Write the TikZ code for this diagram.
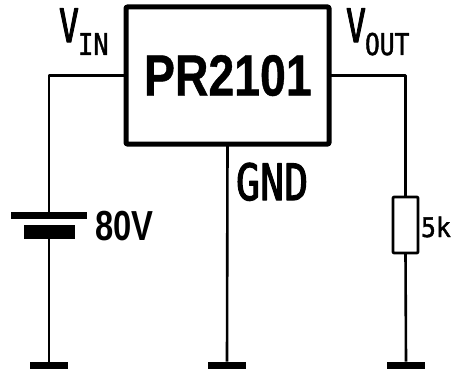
\documentclass[tikz,border=0pt]{standalone}
\usepackage{fontspec}
\setmainfont{DejaVu Sans Mono}[FakeBold=1.6]
\newfontfamily\heavyfont{DejaVu Sans Mono}[FakeBold=2.6]
\newfontfamily\chipfont{Liberation Sans Bold}[FakeBold=0.8]
\newfontfamily\batfont{Liberation Sans Bold}
\begin{document}
\begin{tikzpicture}[x=1pt,y=-1pt,line join=round,
  wire/.style={line width=2.6pt},
  plate/.style={fill=black,draw=none,rectangle,inner sep=0pt,outer sep=0pt},
  gndbar/.style={plate,minimum width=38pt,minimum height=7pt},
  lbl/.style={inner sep=0pt,outer sep=0pt,anchor=base west,transform shape}]
\useasboundingbox (0,0) rectangle (454,369);
\node[draw,line width=5pt,rectangle,rounded corners=1pt,inner sep=0pt,outer sep=0pt,minimum width=203pt,minimum height=137pt] (chip) at (227.5,75.5) {};
\node[lbl,xscale=.8,font=\chipfont\fontsize{58}{58}\selectfont] (name) at (144,95.5) {PR2101};
\node[plate,minimum width=76pt,minimum height=7pt] (plus) at (49,215) {};
\node[plate,minimum width=51pt,minimum height=14pt] (minus) at (49,232) {};
\node[draw,line width=2.6pt,rectangle,rounded corners=.8pt,inner sep=0pt,outer sep=0pt,minimum width=25pt,minimum height=56pt] (res) at (405.5,225) {};
\node[gndbar] (g1) at (49,365) {};
\node[gndbar] (g2) at (227,365) {};
\node[gndbar] (g3) at (406,365) {};
\coordinate (c1) at (49,75.5);
\coordinate (c2) at (405.5,75.5);
\draw[wire] (chip.west |- c1) -- (c1) -- (plus.north -| c1);
\draw[wire] (minus.south) -- (g1.north);
\draw[wire] (chip.south) -- (g2.north);
\draw[wire] (chip.east |- c2) -- (c2) -- (res.north);
\draw[wire] (res.south) -- (g3.north);
\node[lbl,xscale=.72,font=\heavyfont\fontsize{46}{46}\selectfont] (vin) at (59,42) {V};
\node[lbl,xscale=.85,font=\fontsize{30}{30}\selectfont] (in) at (78,55) {IN};
\node[lbl,xscale=.72,font=\heavyfont\fontsize{46}{46}\selectfont] (vout) at (346,42) {V};
\node[lbl,xscale=.82,font=\fontsize{30}{30}\selectfont] (out) at (365,55) {OUT};
\node[lbl,xscale=.8,font=\heavyfont\fontsize{50}{50}\selectfont] (gnd) at (236,200) {GND};
\node[lbl,xscale=.78,font=\batfont\fontsize{42}{42}\selectfont] (bat) at (95,240.5) {80V};
\node[lbl,xscale=.92,font=\fontsize{27}{27}\selectfont] (rv) at (421,237) {5k};
\end{tikzpicture}
\end{document}
